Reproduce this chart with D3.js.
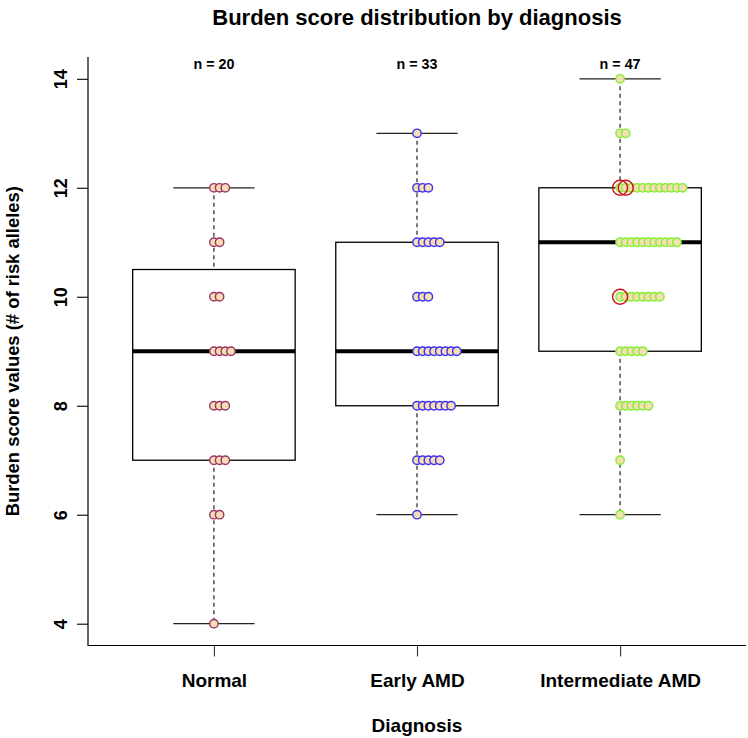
<!DOCTYPE html>
<html>
<head>
<meta charset="utf-8">
<script src="https://cdn.jsdelivr.net/npm/d3@7"></script>
<style>
  body { margin: 0; background: #fff; }
  text { font-family: "Liberation Sans", Arial, Helvetica, sans-serif; font-weight: bold; fill: #000; }
</style>
</head>
<body>
<svg id="chart" width="748" height="738"></svg>
<script>
// groups and their burden scores (one entry per sample)
var categories = ["Normal", "Early AMD", "Intermediate AMD"];
var normalScores = [12, 12, 12, 11, 11, 10, 10, 9, 9, 9, 9, 8, 8, 8, 7, 7, 7, 6, 6, 4];
var earlyScores = [13, 12, 12, 12, 11, 11, 11, 11, 11, 10, 10, 10,
    9, 9, 9, 9, 9, 9, 9, 9, 8, 8, 8, 8, 8, 8, 8, 7, 7, 7, 7, 7, 6];
var intermediateScores = [14, 13, 13,
    12, 12, 12, 12, 12, 12, 12, 12, 12, 12, 12, 12,
    11, 11, 11, 11, 11, 11, 11, 11, 11, 11, 11,
    10, 10, 10, 10, 10, 10, 10, 10,
    9, 9, 9, 9, 9, 8, 8, 8, 8, 8, 8, 7, 6];
var dotColors = ["#9a3566", "#3b30f2", "#80f030"];
var yTicks = [4, 6, 8, 10, 12, 14];

// highlighted samples (red rings): group index, score, position in the stack
var highlightGroup = [2, 2, 2];
var highlightScore = [12, 12, 10];
var highlightSlot = [0, 1, 0];

var allScores = [normalScores, earlyScores, intermediateScores];

var svg = d3.select("#chart"),
    width = +svg.attr("width"),
    height = +svg.attr("height");

var plotL = 88, plotR = 746, plotT = 57, plotB = 645.5;

var x = d3.scaleLinear().domain([0.38, 3.62]).range([plotL, plotR]);
var y = d3.scaleLinear().domain([3.6, 14.4]).range([plotB, plotT]);
var unit = x(1) - x(0);

// Tukey five number summary like R's fivenum
function fivenum(v) {
    var s = v.slice().sort(d3.ascending), n = s.length;
    var n4 = Math.floor((n + 3) / 2) / 2;
    var d = [1, n4, (n + 1) / 2, n + 1 - n4, n];
    return d.map(function (p) {
        return 0.5 * (s[Math.floor(p) - 1] + s[Math.ceil(p) - 1]);
    });
}

var stats = allScores.map(function (v) {
    var f = fivenum(v), iqr = f[3] - f[1];
    var lo = d3.min(v.filter(function (d) { return d >= f[1] - 1.5 * iqr; }));
    var hi = d3.max(v.filter(function (d) { return d <= f[3] + 1.5 * iqr; }));
    return { lo: lo, q1: f[1], med: f[2], q3: f[3], hi: hi };
});

var boxW = 0.8 * unit, capW = 0.2 * unit;

var boxes = svg.append("g").selectAll("g")
    .data(stats)
    .enter()
    .append("g");

// whiskers
boxes.append("line")
    .attr("x1", function (d, i) { return x(i + 1); })
    .attr("x2", function (d, i) { return x(i + 1); })
    .attr("y1", function (d) { return y(d.hi); })
    .attr("y2", function (d) { return y(d.q3); })
    .attr("stroke", "#222").attr("stroke-width", 1.2).attr("stroke-dasharray", "4,3.5");
boxes.append("line")
    .attr("x1", function (d, i) { return x(i + 1); })
    .attr("x2", function (d, i) { return x(i + 1); })
    .attr("y1", function (d) { return y(d.q1); })
    .attr("y2", function (d) { return y(d.lo); })
    .attr("stroke", "#222").attr("stroke-width", 1.2).attr("stroke-dasharray", "4,3.5");
// staples
boxes.selectAll(".cap")
    .data(function (d, i) { return [{ v: d.lo, i: i }, { v: d.hi, i: i }]; })
    .enter()
    .append("line")
    .attr("x1", function (d) { return x(d.i + 1) - capW; })
    .attr("x2", function (d) { return x(d.i + 1) + capW; })
    .attr("y1", function (d) { return y(d.v); })
    .attr("y2", function (d) { return y(d.v); })
    .attr("stroke", "#222").attr("stroke-width", 1.2);
// box
boxes.append("rect")
    .attr("x", function (d, i) { return x(i + 1) - boxW / 2; })
    .attr("width", boxW)
    .attr("y", function (d) { return y(d.q3); })
    .attr("height", function (d) { return y(d.q1) - y(d.q3); })
    .attr("fill", "none").attr("stroke", "#000").attr("stroke-width", 1.3);
// median
boxes.append("line")
    .attr("x1", function (d, i) { return x(i + 1) - boxW / 2; })
    .attr("x2", function (d, i) { return x(i + 1) + boxW / 2; })
    .attr("y1", function (d) { return y(d.med); })
    .attr("y2", function (d) { return y(d.med); })
    .attr("stroke", "#000").attr("stroke-width", 4);

// stacked dots
var stackStep = 0.028;
var dots = [];
allScores.forEach(function (v, gi) {
    var seen = {};
    v.slice().sort(d3.ascending).forEach(function (s) {
        var k = seen[s] || 0;
        seen[s] = k + 1;
        dots.push({ g: gi, score: s, slot: k });
    });
});

svg.append("g").selectAll("circle")
    .data(dots)
    .enter()
    .append("circle")
    .attr("cx", function (d) { return x(d.g + 1 + d.slot * stackStep); })
    .attr("cy", function (d) { return y(d.score); })
    .attr("r", 4.2)
    .attr("fill", "#f5deb3")
    .attr("stroke", function (d) { return dotColors[d.g]; })
    .attr("stroke-width", 1.4);

svg.append("g").selectAll("circle")
    .data(highlightScore)
    .enter()
    .append("circle")
    .attr("cx", function (d, i) { return x(highlightGroup[i] + 1 + highlightSlot[i] * stackStep); })
    .attr("cy", function (d) { return y(d); })
    .attr("r", 7.5)
    .attr("fill", "none")
    .attr("stroke", "#d0141c")
    .attr("stroke-width", 1.4);

// axes
var yAxis = svg.append("g")
    .attr("transform", "translate(" + plotL + ",0)")
    .call(d3.axisLeft(y).tickValues(yTicks).tickSize(11).tickSizeOuter(0));
yAxis.select(".domain").remove();
yAxis.selectAll("line").attr("stroke", "#000").attr("stroke-width", 1.1);
yAxis.selectAll("text").remove();
yAxis.selectAll(".tick").append("text")
    .attr("transform", "translate(-27,0) rotate(-90)")
    .attr("text-anchor", "middle")
    .attr("dy", "0.36em")
    .style("font-size", "18px")
    .text(function (d) { return d; });

var xAxis = svg.append("g")
    .attr("transform", "translate(0," + plotB + ")")
    .call(d3.axisBottom(x).tickValues([1, 2, 3]).tickSize(11).tickSizeOuter(0)
        .tickFormat(function (d) { return categories[d - 1]; }));
xAxis.select(".domain").remove();
xAxis.selectAll("line").attr("stroke", "#333").attr("stroke-width", 1.1);
xAxis.selectAll("text")
    .attr("y", 41.5)
    .attr("dy", 0)
    .style("font-size", "19px");

// L-shaped frame
svg.append("path")
    .attr("d", "M" + plotL + "," + plotT + "V" + plotB + "H" + plotR)
    .attr("fill", "none").attr("stroke", "#000").attr("stroke-width", 1.2);

// counts above each group
svg.append("g").selectAll("text")
    .data(allScores)
    .enter()
    .append("text")
    .attr("x", function (d, i) { return x(i + 1); })
    .attr("y", 69)
    .attr("text-anchor", "middle")
    .style("font-size", "14.3px")
    .text(function (d) { return "n = " + d.length; });

svg.append("text")
    .attr("x", (plotL + plotR) / 2)
    .attr("y", 25)
    .attr("text-anchor", "middle")
    .style("font-size", "22px")
    .text("Burden score distribution by diagnosis");

svg.append("text")
    .attr("x", (plotL + plotR) / 2)
    .attr("y", 732)
    .attr("text-anchor", "middle")
    .style("font-size", "19px")
    .text("Diagnosis");

svg.append("text")
    .attr("transform", "translate(19," + (plotT + plotB) / 2 + ") rotate(-90)")
    .attr("text-anchor", "middle")
    .style("font-size", "18.4px")
    .text("Burden score values (# of risk alleles)");
</script>
</body>
</html>
